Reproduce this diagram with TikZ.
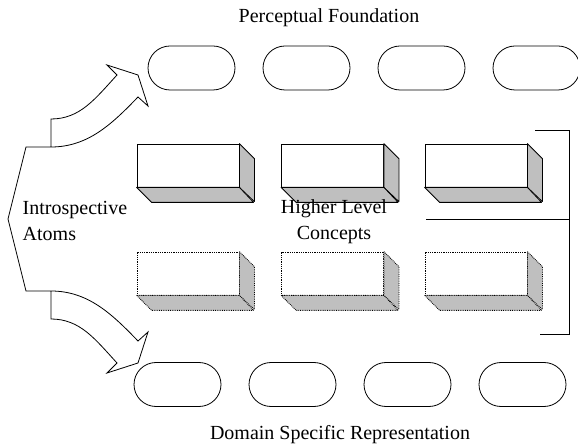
\documentclass[tikz,border=0pt]{standalone}
\usepackage{fontspec}
\setmainfont{Liberation Serif}
\usetikzlibrary{positioning,shapes.misc}

\begin{document}
\begin{tikzpicture}[x=1pt,y=1pt,line width=0.8pt,node distance=115pt,on grid,
    font=\fontsize{20}{26}\selectfont,
    capsule/.style={rounded rectangle, draw, minimum width=87pt, minimum height=44pt, inner sep=0pt},
    concept/.style={rectangle, draw, fill=white, minimum width=102pt, minimum height=43pt, inner sep=0pt},
    vague/.style={concept, densely dotted},
    face/.style={fill=gray!50, draw, line join=round}
    ]
    \useasboundingbox (0,0) rectangle (578,447);

    % perceptual foundation
    \node[capsule] (p_1) at (191.5,379) {};
    \node[capsule] (p_2) [right=of p_1] {};
    \node[capsule] (p_3) [right=of p_2] {};
    \node[capsule] (p_4) [right=of p_3] {};
    \node (pf) at (329,429) {Perceptual Foundation};

    % domain specific representation
    \node[capsule] (d_1) at (177.5,62.5) {};
    \node[capsule] (d_2) [right=of d_1] {};
    \node[capsule] (d_3) [right=of d_2] {};
    \node[capsule] (d_4) [right=of d_3] {};
    \node (dsr) at (340,12) {Domain Specific Representation};

    % higher level concepts
    \node[concept] (c_1) at (188,281.5) {};
    \node[concept] (c_2) [right=144.5pt of c_1] {};
    \node[concept] (c_3) [right=143.5pt of c_2] {};
    \node[vague] (v_1) [below=108pt of c_1] {};
    \node[vague] (v_2) [below=108pt of c_2] {};
    \node[vague] (v_3) [below=108pt of c_3] {};

    \foreach \b in {c_1,c_2,c_3} {
        \draw[face] (\b.north east) -- ++(15,-15) -- ++(0,-43) -- (\b.south east) -- cycle;
        \draw[face] (\b.south west) -- ++(15,-15) -- ++(102,0) -- (\b.south east) -- cycle;
    }
    \foreach \b in {v_1,v_2,v_3} {
        \draw[face,densely dotted] (\b.north east) -- ++(15,-15) -- ++(0,-43) -- (\b.south east) -- cycle;
        \draw[face,densely dotted] (\b.south west) -- ++(15,-15) -- ++(102,0) -- (\b.south east) -- cycle;
    }

    \node[align=center] (hlc) at (334,225) {Higher Level\\Concepts};
    \node[align=left, anchor=west] (ia) at (19,226) {Introspective\\Atoms};

    % bracket on the right
    \coordinate (b_top) at (569,317);
    \coordinate (b_mid) at (569,228);
    \coordinate (b_bot) at (569,113);
    \draw (535,317) -- (b_top) -- (b_bot) -- (540,113);
    \draw (426,228) -- (b_mid);

    % curved arrows, mirrored
    \foreach \s in {1,-1} {
        \begin{scope}[yshift=228pt, yscale=\s]
            \draw (8,0) -- (26,72) -- (51,72) -- (51,100)
                .. controls (80,100) and (95,120) .. (117,144) -- (107,154) -- (138,144)
                -- (148,113) -- (138,122) .. controls (112,95) and (88,72) .. (51,72);
        \end{scope}
    }
\end{tikzpicture}
\end{document}
